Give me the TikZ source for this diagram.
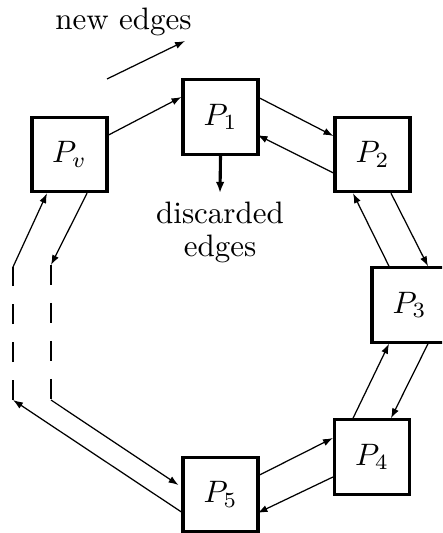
\documentclass[tikz,border=0pt]{standalone}
\usetikzlibrary{arrows.meta,calc}
\tikzset{
  pbox/.style={draw,line width=1pt,minimum width=24.2pt,minimum height=24pt,inner sep=0pt},
  edge/.style={line width=0.4pt,-{Latex[length=3.2pt,width=2.3pt]}},
  gap/.style={line width=0.75pt,dash pattern=on 6.45pt off 5.8pt},
  lbl/.style={anchor=base,inner sep=0pt}
}
\begin{document}
\begin{tikzpicture}[x=0.3226pt,y=0.3226pt]
\clip (0,0) rectangle (442,-533);
\node[pbox] (P1) at (220.5,-117) {$P_1$};
\node[pbox] (Pv) at (69.5,-154.5) {$P_v$};
\node[pbox] (P2) at (372.5,-154.5) {$P_2$};
\node[pbox] (P3) at (409.5,-305) {$P_3$};
\node[pbox] (P4) at (372,-457) {$P_4$};
\node[pbox] (P5) at (220.5,-494.5) {$P_5$};

\node[lbl] (tnew) at (123.5,-30) {new edges};
\node[lbl] (tdis) at (220,-224) {discarded};
\node[lbl] (tedg) at (220,-257) {edges};

\coordinate (n1) at (107,-79);
\coordinate (n2) at (185,-41);
\draw[edge] (n1) -- (n2);

\coordinate (d1) at (220,-193);
\draw[line width=1pt,-{Latex[length=3.6pt,width=2.8pt]}] (P1.south) -- (d1);

\draw[edge] ($(Pv.east)+(0,19.5)$) -- ($(P1.west)+(0,20)$);
\draw[edge] ($(P1.east)+(0,19)$) -- ($(P2.west)+(0,18.5)$);
\draw[edge] ($(P2.west)+(0,-18.5)$) -- ($(P1.east)+(-2,-18)$);
\draw[edge] ($(P2.south)+(18.5,0)$) -- ($(P3.north)+(18.5,0)$);
\draw[edge] ($(P3.north)+(-20.5,0)$) -- ($(P2.south)+(-19.5,0)$);
\draw[edge] ($(P3.south)+(18.5,0)$) -- ($(P4.north)+(19,0)$);
\draw[edge] ($(P4.north)+(-19,0)$) -- ($(P3.south)+(-20.5,0)$);
\draw[edge] ($(P5.east)+(0,19.5)$) -- ($(P4.west)+(0,19)$);
\draw[edge] ($(P4.west)+(0,-20)$) -- ($(P5.east)+(-2,-18.5)$);

\coordinate (a1) at (51,-265);
\coordinate (a2) at (51,-400);
\coordinate (b1) at (13,-400);
\coordinate (b2) at (13,-267);
\draw[edge] ($(Pv.south)+(17.5,0)$) -- (a1);
\draw[gap] (a1) -- (a2);
\draw[edge] (a2) -- ($(P5.west)+(-3,9.5)$);
\draw[edge] ($(P5.west)+(0,-17.5)$) -- (b1);
\draw[gap] (b1) -- (b2);
\draw[edge] (b2) -- ($(Pv.south)+(-22.5,0)$);
\end{tikzpicture}
\end{document}
